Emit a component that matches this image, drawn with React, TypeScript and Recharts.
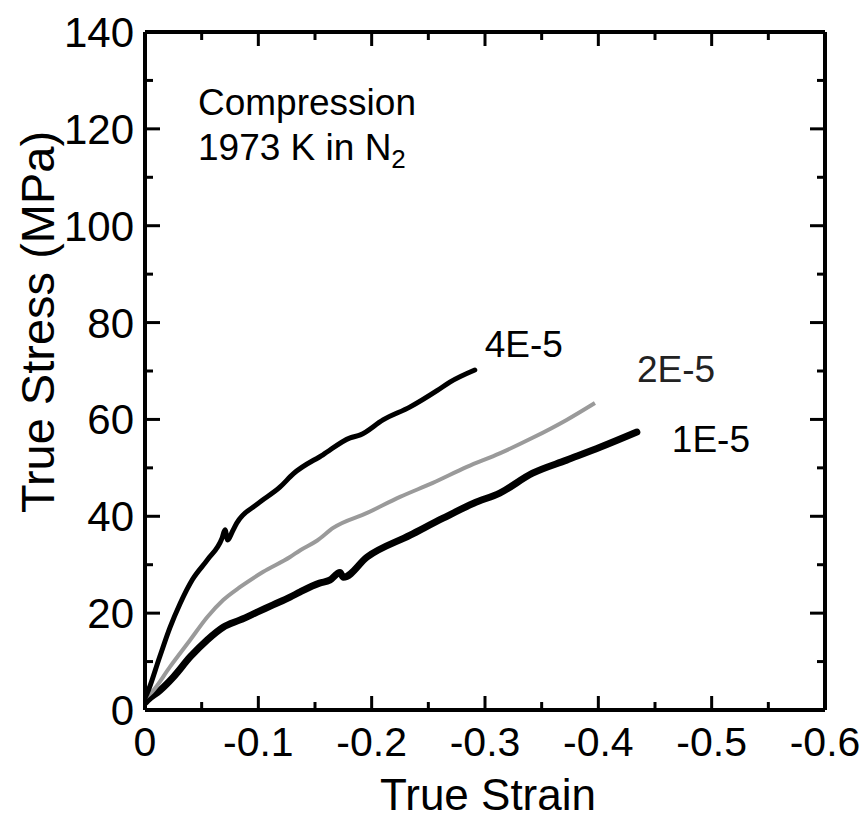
import { LineChart, Line, XAxis, YAxis, Customized } from 'recharts'

// strain (negative = compression) and true stress (MPa)
const strain4 = [0, -0.002, -0.013, -0.022, -0.031, -0.042, -0.055, -0.068, -0.0706, -0.073, -0.077, -0.081, -0.099, -0.119, -0.131, -0.157, -0.181, -0.19, -0.21, -0.234, -0.258, -0.269, -0.291]
const stress4 = [2.5, 3.5, 11, 17, 22, 27, 31, 35.5, 37.2, 35.1, 36.8, 38.6, 42.5, 46, 48.8, 52.7, 56.2, 56.8, 59.9, 62.6, 66, 67.7, 70.2]

const strain2 = [0, -0.006, -0.022, -0.04, -0.055, -0.069, -0.084, -0.104, -0.128, -0.137, -0.152, -0.166, -0.196, -0.225, -0.254, -0.284, -0.313, -0.342, -0.372, -0.397]
const stress2 = [2.5, 3.7, 8.9, 14.5, 19.2, 22.7, 25.4, 28.5, 31.6, 33, 35, 37.6, 40.7, 44, 46.9, 50.2, 53, 56.2, 59.9, 63.4]

const strain1 = [0, -0.002, -0.013, -0.025, -0.04, -0.055, -0.069, -0.084, -0.099, -0.113, -0.128, -0.137, -0.154, -0.163, -0.172, -0.175, -0.196, -0.234, -0.263, -0.29, -0.313, -0.342, -0.372, -0.402, -0.434]
const stress1 = [1.5, 2, 4, 6.8, 11, 14.5, 17.1, 18.6, 20.2, 21.7, 23.3, 24.4, 26.2, 26.8, 28.4, 27.4, 31.6, 36.1, 39.6, 42.7, 44.8, 48.9, 51.6, 54.3, 57.4]

const xTicks = [0, -0.05, -0.1, -0.15, -0.2, -0.25, -0.3, -0.35, -0.4, -0.45, -0.5, -0.55, -0.6]
const yTicks = [0, 10, 20, 30, 40, 50, 60, 70, 80, 90, 100, 110, 120, 130, 140]

const FONT = 'Liberation Sans, Arial, sans-serif'

const toPoints = (xs: number[], ys: number[]) => xs.map((x, i) => ({ strain: x, stress: ys[i] }))
const data4 = toPoints(strain4, stress4)
const data2 = toPoints(strain2, stress2)
const data1 = toPoints(strain1, stress1)

const isMajorX = (v: number) => Math.round(Math.abs(v) * 100) % 10 === 0
const isMajorY = (v: number) => Math.round(v) % 20 === 0
const fmtX = (v: number) => (Math.abs(v) < 1e-9 ? '0' : v.toFixed(1))

const BottomTick = (p: any) => {
  const v = p.payload.value
  const major = isMajorX(v)
  return (
    <g>
      <line x1={p.x} y1={p.y} x2={p.x} y2={p.y - (major ? 14 : 8)} stroke="#000" strokeWidth={3} />
      {major && (
        <text x={p.x} y={p.y + 46} textAnchor="middle" fontSize={41} fontFamily={FONT} fill="#000">
          {fmtX(v)}
        </text>
      )}
    </g>
  )
}

const TopTick = (p: any) => {
  const major = isMajorX(p.payload.value)
  return <line x1={p.x} y1={p.y} x2={p.x} y2={p.y + (major ? 14 : 8)} stroke="#000" strokeWidth={3} />
}

const LeftTick = (p: any) => {
  const v = p.payload.value
  const major = isMajorY(v)
  return (
    <g>
      <line x1={p.x} y1={p.y} x2={p.x + (major ? 15 : 8)} y2={p.y} stroke="#000" strokeWidth={3} />
      {major && (
        <text x={p.x - 11} y={p.y + 15} textAnchor="end" fontSize={42} fontFamily={FONT} fill="#000">
          {v}
        </text>
      )}
    </g>
  )
}

const RightTick = (p: any) => {
  const major = isMajorY(p.payload.value)
  return <line x1={p.x} y1={p.y} x2={p.x - (major ? 15 : 8)} y2={p.y} stroke="#000" strokeWidth={3} />
}

// label drawn next to the last point of a curve
const endLabel = (text: string, last: number, dx: number, dy: number, color = '#000') => (p: any) => {
  if (p.index !== last) return <g />
  return (
    <text x={p.x + dx} y={p.y + dy} fontSize={37} fontFamily={FONT} fill={color}>
      {text}
    </text>
  )
}

const Notes = () => (
  <g fontFamily={FONT} fontSize={37} fill="#000">
    <text x={198} y={115}>Compression</text>
    <text x={198} y={160}>
      1973 K in N<tspan fontSize={26} dy={8}>2</tspan>
    </text>
    <text x={37} y={322} fontSize={47} textAnchor="middle" dominantBaseline="central" transform="rotate(-90, 37, 322)">
      True Stress (MPa)
    </text>
    <text x={488} y={810} fontSize={44} textAnchor="middle">True Strain</text>
  </g>
)

export default function App() {
  return (
    <div style={{ position: 'absolute', left: 0, top: 0, width: 865, height: 819, background: '#fff' }}>
      <LineChart width={865} height={819} margin={{ top: 2, right: 30, bottom: 10, left: 10 }}>
        <XAxis
          xAxisId="bottom"
          type="number"
          dataKey="strain"
          domain={[-0.6, 0]}
          reversed
          allowDataOverflow
          ticks={xTicks}
          interval={0}
          height={99}
          tickSize={0}
          tickMargin={0}
          tick={<BottomTick />}
          axisLine={{ stroke: '#000', strokeWidth: 4 }}
        />
        <XAxis
          xAxisId="top"
          orientation="top"
          type="number"
          dataKey="strain"
          domain={[-0.6, 0]}
          reversed
          allowDataOverflow
          ticks={xTicks}
          interval={0}
          height={30}
          tickSize={0}
          tickMargin={0}
          tick={<TopTick />}
          axisLine={{ stroke: '#000', strokeWidth: 4 }}
        />
        <YAxis
          yAxisId="left"
          type="number"
          domain={[0, 140]}
          allowDataOverflow
          ticks={yTicks}
          interval={0}
          width={135}
          tickSize={0}
          tickMargin={0}
          tick={<LeftTick />}
          axisLine={{ stroke: '#000', strokeWidth: 4 }}
        />
        <YAxis
          yAxisId="right"
          orientation="right"
          type="number"
          domain={[0, 140]}
          allowDataOverflow
          ticks={yTicks}
          interval={0}
          width={10}
          tickSize={0}
          tickMargin={0}
          tick={<RightTick />}
          axisLine={{ stroke: '#000', strokeWidth: 4 }}
        />
        <Line
          xAxisId="bottom"
          yAxisId="left"
          type="monotone"
          data={data1}
          dataKey="stress"
          stroke="#000"
          strokeWidth={7}
          strokeLinejoin="round"
          strokeLinecap="round"
          dot={false}
          label={endLabel('1E-5', data1.length - 1, 35, 20)}
          isAnimationActive={false}
        />
        <Line
          xAxisId="bottom"
          yAxisId="left"
          type="monotone"
          data={data2}
          dataKey="stress"
          stroke="#9a9a9a"
          strokeWidth={4}
          strokeLinejoin="round"
          dot={false}
          label={endLabel('2E-5', data2.length - 1, 42, -21, '#222')}
          isAnimationActive={false}
        />
        <Line
          xAxisId="bottom"
          yAxisId="left"
          type="monotone"
          data={data4}
          dataKey="stress"
          stroke="#000"
          strokeWidth={5}
          strokeLinejoin="round"
          strokeLinecap="round"
          dot={false}
          label={endLabel('4E-5', data4.length - 1, 10, -13)}
          isAnimationActive={false}
        />
        <Customized component={Notes} />
      </LineChart>
    </div>
  )
}
